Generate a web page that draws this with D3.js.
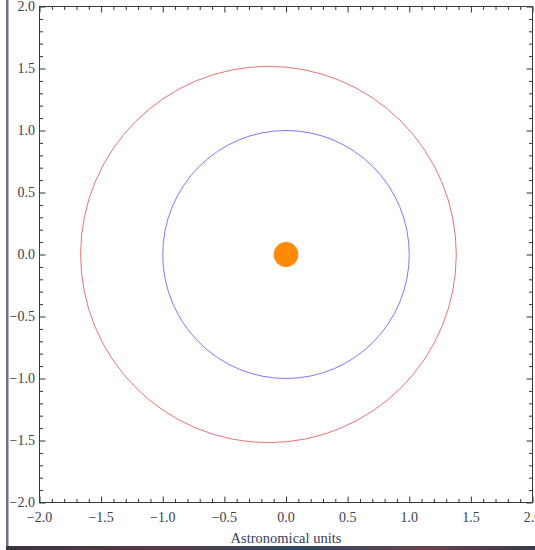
<!DOCTYPE html>
<html><head><meta charset="utf-8">
<script src="https://cdn.jsdelivr.net/npm/d3@7"></script>
<style>body{margin:0;background:#fff;overflow:hidden}</style>
</head><body>
<svg id="c" width="535" height="550"></svg>
<script>
// Data
const orbitNames = ["Earth", "Mars"];
const semiMajor = [1.0, 1.524];
const eccentricity = [0.0, 0.0934];
const orbitColors = ["#7a7aff", "#e87474"];
const sunRadiusAU = 0.1;
const xDomain = [-2, 2];
const yDomain = [-2, 2];
const majorTicks = [-2.0, -1.5, -1.0, -0.5, 0.0, 0.5, 1.0, 1.5, 2.0];
const xTickLabels = ["\u22122.0","\u22121.5","\u22121.0","\u22120.5","0.0","0.5","1.0","1.5","2.0"];
const yTickLabels = ["\u22122.0","\u22121.5","\u22121.0","\u22120.5","0.0","0.5","1.0","1.5","2.0"];
const xTitle = "Astronomical units";

const svg = d3.select("#c");
const L = 39.5, R = 532.5, T = 6.5, B = 502.5;
const x = d3.scaleLinear().domain(xDomain).range([L, R]);
const y = d3.scaleLinear().domain(yDomain).range([B, T]);

// window decoration
svg.append("rect").attr("x", 6).attr("y", 0).attr("width", 2.5).attr("height", 546).attr("fill", "#6e6e92");
const grad = svg.append("defs").append("linearGradient").attr("id","bg");
[["0%","#3a3340"],["30%","#5a3a48"],["55%","#2f4a60"],["80%","#6a4050"],["100%","#3a3a4a"]].forEach(s=>grad.append("stop").attr("offset",s[0]).attr("stop-color",s[1]));
svg.append("rect").attr("x", 6).attr("y", 546).attr("width", 529).attr("height", 4).attr("fill", "url(#bg)");

const minorTicks = d3.range(-20, 21).map(i => i / 10).filter(v => Math.abs(v * 2 - Math.round(v * 2)) > 1e-6);

const g = svg.append("g");
// orbits
orbitNames.forEach((n, i) => {
  const a = semiMajor[i], e = eccentricity[i];
  const c = a * e, b = a * Math.sqrt(1 - e * e);
  g.append("ellipse")
    .attr("cx", x(-c)).attr("cy", y(0))
    .attr("rx", x(a) - x(0)).attr("ry", y(0) - y(b))
    .attr("fill", "none").attr("stroke", orbitColors[i]).attr("stroke-width", 1);
});
// sun
g.append("ellipse").attr("cx", x(0)).attr("cy", y(0))
  .attr("rx", x(sunRadiusAU) - x(0)).attr("ry", y(0) - y(sunRadiusAU))
  .attr("fill", "#ff8a00");

// axes
function axisTicks(axisGen, tr, vals, size) {
  const a = svg.append("g").attr("transform", tr)
    .call(axisGen.tickValues(vals).tickSize(size).tickFormat(""));
  a.select(".domain").remove();
  a.selectAll("line").attr("stroke", "#333");
  return a;
}
axisTicks(d3.axisTop(x), `translate(0,${B})`, majorTicks, 6);
axisTicks(d3.axisTop(x), `translate(0,${B})`, minorTicks, 3.5);
axisTicks(d3.axisBottom(x), `translate(0,${T})`, majorTicks, 6);
axisTicks(d3.axisBottom(x), `translate(0,${T})`, minorTicks, 3.5);
axisTicks(d3.axisRight(y), `translate(${L},0)`, majorTicks, 6);
axisTicks(d3.axisRight(y), `translate(${L},0)`, minorTicks, 3.5);
axisTicks(d3.axisLeft(y), `translate(${R},0)`, majorTicks, 6);
axisTicks(d3.axisLeft(y), `translate(${R},0)`, minorTicks, 3.5);

svg.append("rect").attr("x", L).attr("y", T).attr("width", R - L).attr("height", B - T)
  .attr("fill", "none").attr("stroke", "#3a3a3a").attr("stroke-width", 1);

const font = "'Liberation Serif','DejaVu Serif',serif";
svg.append("g").selectAll("text").data(majorTicks).join("text")
  .attr("x", d => x(d)).attr("y", 522).attr("text-anchor", "middle")
  .attr("font-family", font).attr("font-size", 14).attr("fill", "#404048")
  .text((d, i) => xTickLabels[i]);
svg.append("g").selectAll("text").data(majorTicks).join("text")
  .attr("x", 35).attr("y", d => y(d) + 4.5).attr("text-anchor", "end")
  .attr("font-family", font).attr("font-size", 14).attr("fill", "#404048")
  .text((d, i) => yTickLabels[i]);
svg.append("text").attr("x", x(0)).attr("y", 543).attr("text-anchor", "middle")
  .attr("font-family", font).attr("font-size", 14.5).attr("fill", "#34405a")
  .text(xTitle);
</script>
</body></html>
